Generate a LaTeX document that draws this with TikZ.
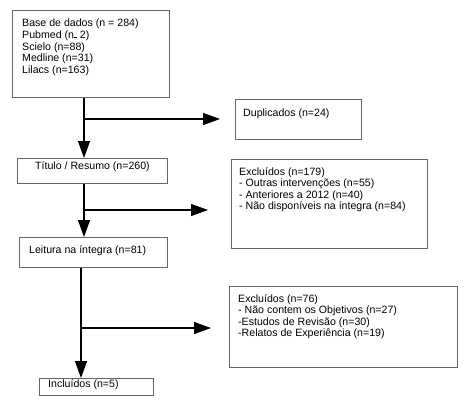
\documentclass[tikz,border=0pt]{standalone}
\usepackage{fontspec}
\setmainfont{Liberation Sans}
\usetikzlibrary{arrows.meta}
\begin{document}
\begin{tikzpicture}[x=1pt,y=-1pt,
  box/.style={draw=black!60, line width=0.9pt, inner sep=0pt, anchor=north west},
  txt/.style={anchor=north west, inner sep=0pt, align=left, font=\fontsize{10.6}{11.6}\selectfont},
  flow/.style={draw=black, line width=1.1pt, -{Triangle[length=17pt,width=12pt]}},
  branch/.style={draw=black, line width=1.1pt}]
\fill[white] (0,0) rectangle (473,408);
\useasboundingbox (0,0) rectangle (473,408);
% boxes
\node[box, minimum width=157pt, minimum height=87pt] (b1) at (12,10) {};
\node[box, minimum width=126pt, minimum height=40pt] (dup) at (235,99) {};
\node[box, minimum width=150pt, minimum height=25pt] (b2) at (17,158) {};
\node[box, minimum width=196pt, minimum height=89pt] (ex1) at (231,159) {};
\node[box, minimum width=148pt, minimum height=30pt] (b3) at (19,237) {};
\node[box, minimum width=228pt, minimum height=81pt] (ex2) at (229,286) {};
\node[box, minimum width=114pt, minimum height=17pt] (b4) at (39,378) {};
% texts
\node[txt] (t1) at (22,19) {Base de dados (n = 284)\\Pubmed (n\rule{3pt}{1.3pt} 2)\\Scielo (n=88)\\Medline (n=31)\\Lilacs (n=163)};
\node[txt] (tdup) at (243,109) {Duplicados (n=24)};
\node[txt] (t2) at (35,161) {Título / Resumo (n=260)};
\node[txt] (tex1) at (239,167) {Excluídos (n=179)\\- Outras intervenções (n=55)\\- Anteriores a 2012 (n=40)\\- Não disponíveis na íntegra (n=84)};
\node[txt] (t3) at (29,245) {Leitura na íntegra (n=81)};
\node[txt] (tex2) at (238,294) {Excluídos (n=76)\\- Não contem os Objetivos (n=27)\\-Estudos de Revisão (n=30)\\-Relatos de Experiência (n=19)};
\node[txt] (t4) at (48,379) {Incluídos (n=5)};
% connector coordinates
\coordinate (v1) at (84,0);
\coordinate (v2) at (84,0);
\coordinate (v3) at (81,0);
\coordinate (j1) at (84,119);
\coordinate (e1) at (220,119);
\coordinate (j2) at (84,210);
\coordinate (e2) at (208,210);
\coordinate (j3) at (81,328);
\coordinate (e3) at (211,328);
% connectors
\draw[flow] (b1.south -| v1) -- (b2.north -| v1);
\draw[flow] (j1) -- (e1);
\draw[flow] (b2.south -| v2) -- (b3.north -| v2);
\draw[flow] (j2) -- (e2);
\draw[flow] (b3.south -| v3) -- (b4.north -| v3);
\draw[flow] (j3) -- (e3);
\end{tikzpicture}
\end{document}
